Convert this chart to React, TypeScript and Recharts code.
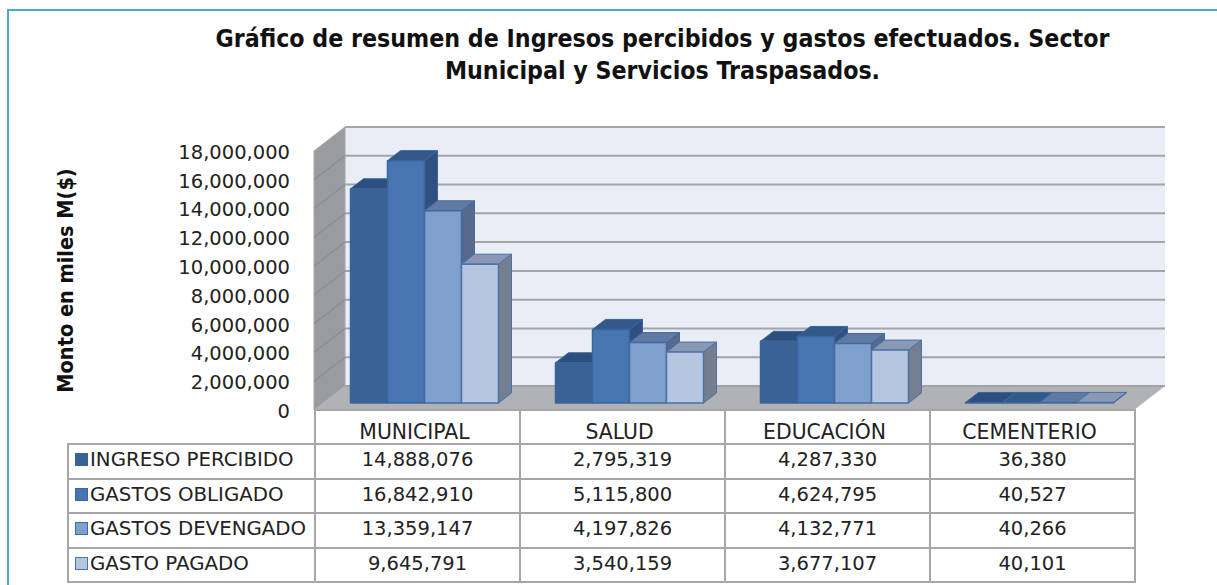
import React from 'react';
import { BarChart, Bar, XAxis, YAxis, CartesianGrid } from 'recharts';

const categories = ['MUNICIPAL', 'SALUD', 'EDUCACIÓN', 'CEMENTERIO'];
const ingresoPercibido = [14888076, 2795319, 4287330, 36380];
const gastosObligado = [16842910, 5115800, 4624795, 40527];
const gastosDevengado = [13359147, 4197826, 4132771, 40266];
const gastoPagado = [9645791, 3540159, 3677107, 40101];
const yTicks = [0, 2000000, 4000000, 6000000, 8000000, 10000000, 12000000, 14000000, 16000000, 18000000];

const fmt = (v: number) => v.toLocaleString('en-US');

const data = categories.map((name, i) => ({
  name,
  ingreso: ingresoPercibido[i],
  obligado: gastosObligado[i],
  devengado: gastosDevengado[i],
  pagado: gastoPagado[i],
}));

const series = [
  { key: 'ingreso', label: 'INGRESO PERCIBIDO', values: ingresoPercibido, front: '#3a6295', top: '#2d4f7e', side: '#2d4f7e', line: '#38659c' },
  { key: 'obligado', label: 'GASTOS OBLIGADO', values: gastosObligado, front: '#4775b2', top: '#33588a', side: '#2f5080', line: '#3a659e' },
  { key: 'devengado', label: 'GASTOS DEVENGADO', values: gastosDevengado, front: '#7f9fcd', top: '#5f7aa3', side: '#566a8e', line: '#42699f' },
  { key: 'pagado', label: 'GASTO PAGADO', values: gastoPagado, front: '#b7c6e0', top: '#8a98b4', side: '#747e90', line: '#4a73a8' },
];

// plot frame in page pixels
const LEFT = 314;
const RIGHT = 1134;
const TOP = 151;
const BASE = 410;
const DX = 31;
const DY = 24;

const FONT = '"DejaVu Sans", sans-serif';
const BOLD_FONT = '"DejaVu Sans Condensed", "DejaVu Sans", sans-serif';

// back wall, side wall and floor sit in their own svg behind the chart
const Walls = () => (
  <svg width={1217} height={585} style={{ position: 'absolute', left: 0, top: 0 }}>
    <polygon points={`${LEFT + DX},${TOP - DY} ${RIGHT + DX},${TOP - DY} ${RIGHT + DX},${BASE - DY} ${LEFT + DX},${BASE - DY}`} fill="#e9edf6" />
    <polygon points={`${LEFT},${TOP} ${LEFT + DX},${TOP - DY} ${LEFT + DX},${BASE - DY} ${LEFT},${BASE}`} fill="#999c9f" stroke="#a6a6a6" />
    <polygon points={`${LEFT},${BASE} ${LEFT + DX},${BASE - DY} ${RIGHT + DX},${BASE - DY} ${RIGHT},${BASE}`} fill="#b0b2b5" />
    <line x1={LEFT + DX} x2={RIGHT + DX} y1={TOP - DY} y2={TOP - DY} stroke="#a6a6a6" strokeWidth={2} />
    <line x1={LEFT + DX} x2={RIGHT + DX} y1={BASE - DY} y2={BASE - DY} stroke="#a0a2a4" strokeWidth={2} />
    <line x1={LEFT} x2={RIGHT} y1={BASE} y2={BASE} stroke="#a6a6a6" strokeWidth={2} />
  </svg>
);

const GridLine = (props: any) => {
  const y = props.y1;
  if (y >= BASE - 1 || y <= TOP + 1) return <g />;
  return (
    <g>
      <line x1={LEFT} y1={y} x2={LEFT + DX} y2={y - DY} stroke="#84878a" strokeWidth={1} />
      <line x1={LEFT + DX} y1={y - DY} x2={RIGHT + DX} y2={y - DY} stroke="#a2a4a8" strokeWidth={2} />
    </g>
  );
};

const Box3D = (props: any) => {
  const { x, y, width, height, s } = props;
  const ox = 8.5;
  const oy = -7;
  const dx = 13;
  const dy = 10;
  const x0 = x + ox;
  const x1 = x0 + width;
  const y0 = y + oy;
  const y1 = y0 + height;
  return (
    <g strokeLinejoin="round">
      <polygon points={`${x0},${y0} ${x0 + dx},${y0 - dy} ${x1 + dx},${y0 - dy} ${x1},${y0}`} fill={s.top} stroke={s.line} strokeWidth={1} />
      <polygon points={`${x1},${y0} ${x1 + dx},${y0 - dy} ${x1 + dx},${y1 - dy} ${x1},${y1}`} fill={s.side} stroke={s.line} strokeWidth={1} />
      <rect x={x0} y={y0} width={width} height={height} fill={s.front} stroke={s.line} strokeWidth={1.5} />
    </g>
  );
};

const cell: React.CSSProperties = {
  border: '2px solid #a6a6a6',
  padding: '0 0 3px 0',
  textAlign: 'center',
  boxSizing: 'border-box',
};

const DataTable = () => (
  <table
    style={{
      position: 'absolute',
      left: 67,
      top: 409,
      borderCollapse: 'collapse',
      tableLayout: 'fixed',
      width: 1068,
      fontFamily: FONT,
      fontSize: 19.5,
      color: '#222',
    }}
  >
    <colgroup>
      <col style={{ width: 247 }} />
      <col style={{ width: 205 }} />
      <col style={{ width: 205 }} />
      <col style={{ width: 205 }} />
      <col style={{ width: 205 }} />
    </colgroup>
    <tbody>
      <tr style={{ height: 35 }}>
        <td style={{ padding: 0 }} />
        {categories.map((c) => (
          <td key={c} style={{ ...cell, borderTop: 'none' }} />
        ))}
      </tr>
      {series.map((s) => (
        <tr key={s.key} style={{ height: 34.5 }}>
          <td style={{ ...cell, textAlign: 'left', whiteSpace: 'nowrap', fontSize: 19.8 }}>
            <span
              style={{
                display: 'inline-block',
                width: 13,
                height: 13,
                margin: '0 2px 0 6px',
                background: s.front,
                border: `1px solid ${s.line}`,
                boxSizing: 'border-box',
              }}
            />
            {s.label}
          </td>
          {s.values.map((v, i) => (
            <td key={i} style={cell}>
              {fmt(v)}
            </td>
          ))}
        </tr>
      ))}
    </tbody>
  </table>
);

export default function App() {
  return (
    <div style={{ position: 'fixed', left: 0, top: 0, width: 1217, height: 585, background: '#fff', overflow: 'hidden' }}>
      <div style={{ position: 'absolute', left: 7, top: 9, width: 1300, height: 700, border: '2px solid #4bacc6', boxSizing: 'border-box' }} />
      <div
        style={{
          position: 'absolute',
          left: 120,
          top: 23,
          width: 1085,
          textAlign: 'center',
          fontFamily: BOLD_FONT,
          fontWeight: 700,
          fontSize: 24.7,
          lineHeight: '32px',
          color: '#111',
          whiteSpace: 'nowrap',
        }}
      >
        Gráfico de resumen de Ingresos percibidos y gastos efectuados. Sector
        <br />
        Municipal y Servicios Traspasados.
      </div>
      <Walls />
      <DataTable />
      <div style={{ position: 'absolute', left: 0, top: 0 }}>
        <BarChart
          width={1217}
          height={585}
          data={data}
          barCategoryGap={28}
          barGap={0}
          margin={{ left: 0, top: TOP, right: 1217 - RIGHT, bottom: 585 - BASE - 40 }}
        >
          <CartesianGrid vertical={false} horizontal={GridLine as any} />
          <XAxis dataKey="name" axisLine={false} tickLine={false} height={40} interval={0} tick={{ fontFamily: FONT, fontSize: 20.4, fill: '#222', dx: -2 }} tickMargin={9} />
          <YAxis
            width={LEFT}
            domain={[0, 18000000]}
            ticks={yTicks}
            interval={0}
            axisLine={false}
            tickLine={false}
            tickMargin={18}
            tickFormatter={fmt}
            tick={{ fontFamily: FONT, fontSize: 19.5, fill: '#222', dy: 1 }}
            label={{
              value: 'Monto en miles M($)',
              angle: -90,
              position: 'insideLeft',
              offset: 65,
              style: { fontFamily: BOLD_FONT, fontWeight: 700, fontSize: 21.5, fill: '#111', textAnchor: 'middle' },
            }}
          />
          {series.map((s) => (
            <Bar key={s.key} dataKey={s.key} isAnimationActive={false} shape={(p: any) => <Box3D {...p} s={s} />} />
          ))}
        </BarChart>
      </div>
    </div>
  );
}
